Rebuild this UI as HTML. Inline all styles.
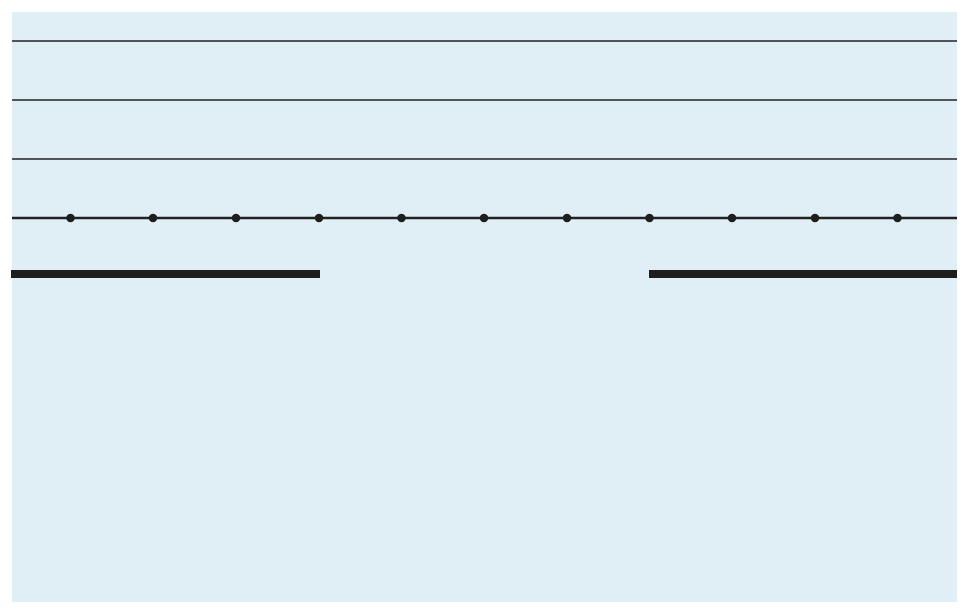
<!DOCTYPE html>
<html><head><meta charset="utf-8"><style>html,body{margin:0;padding:0;background:#fff;}svg{display:block}</style></head>
<body>
<svg width="968" height="614" xmlns="http://www.w3.org/2000/svg">
<rect x="12" y="12" width="945" height="590" fill="#e0eff6"/>
<g stroke="#222" stroke-width="1.5">
<line x1="12" y1="41" x2="957" y2="41"/>
<line x1="12" y1="100" x2="957" y2="100"/>
<line x1="12" y1="159" x2="957" y2="159"/>
</g>
<line x1="12" y1="218" x2="957" y2="218" stroke="#222" stroke-width="2.5"/>
<g fill="#1e1e1e">
<circle cx="70.5" cy="218" r="4.3"/><circle cx="153" cy="218" r="4.3"/><circle cx="236" cy="218" r="4.3"/><circle cx="319" cy="218" r="4.3"/><circle cx="401.5" cy="218" r="4.3"/><circle cx="484" cy="218" r="4.3"/><circle cx="567" cy="218" r="4.3"/><circle cx="649.5" cy="218" r="4.3"/><circle cx="732" cy="218" r="4.3"/><circle cx="815" cy="218" r="4.3"/><circle cx="897.5" cy="218" r="4.3"/>
<rect x="11" y="270" width="309" height="8"/>
<rect x="649" y="270" width="308" height="8"/>
</g>
</svg>
</body></html>
